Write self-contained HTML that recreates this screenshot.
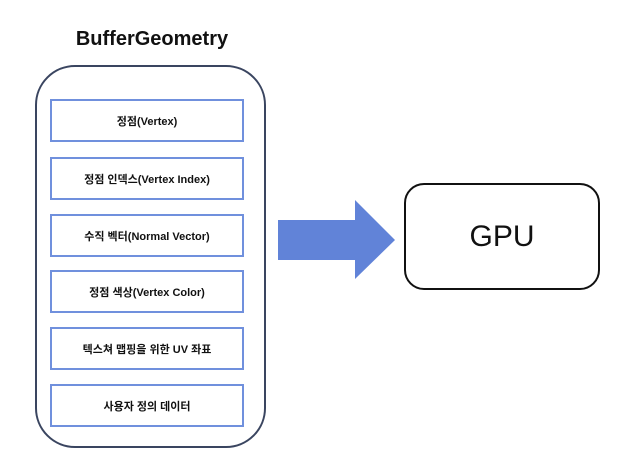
<!DOCTYPE html>
<html><head><meta charset="utf-8"><style>
body{margin:0;width:625px;height:467px;background:#fff;position:relative;font-family:"Liberation Sans","Noto Sans CJK KR",sans-serif;overflow:hidden}
.t{position:absolute;left:35px;width:234px;top:28px;text-align:center;font-weight:bold;font-size:20px;color:#111}
.outer{position:absolute;left:35px;top:65px;width:231px;height:383px;border:2px solid #3a4560;border-radius:40px;box-sizing:border-box}
.b{position:absolute;left:50px;width:194px;height:43px;border:2px solid #7090dd;box-sizing:border-box;display:flex;align-items:center;justify-content:center;font-size:11px;font-weight:bold;color:#111}
.gpu{position:absolute;left:404px;top:183px;width:196px;height:107px;border:2px solid #111;border-radius:20px;box-sizing:border-box;display:flex;align-items:center;justify-content:center;font-size:30px;color:#111}
</style></head><body>
<div class="t">BufferGeometry</div>
<div class="outer"></div>
<div class="b" style="top:99px">정점(Vertex)</div>
<div class="b" style="top:157px">정점 인덱스(Vertex Index)</div>
<div class="b" style="top:214px">수직 벡터(Normal Vector)</div>
<div class="b" style="top:270px">정점 색상(Vertex Color)</div>
<div class="b" style="top:327px">텍스쳐 맵핑을 위한 UV 좌표</div>
<div class="b" style="top:384px">사용자 정의 데이터</div>
<svg style="position:absolute;left:0;top:0" width="625" height="467"><polygon points="278,220 355,220 355,200 395,240 355,279 355,260 278,260" fill="#6183d8"/></svg>
<div class="gpu">GPU</div>
</body></html>
